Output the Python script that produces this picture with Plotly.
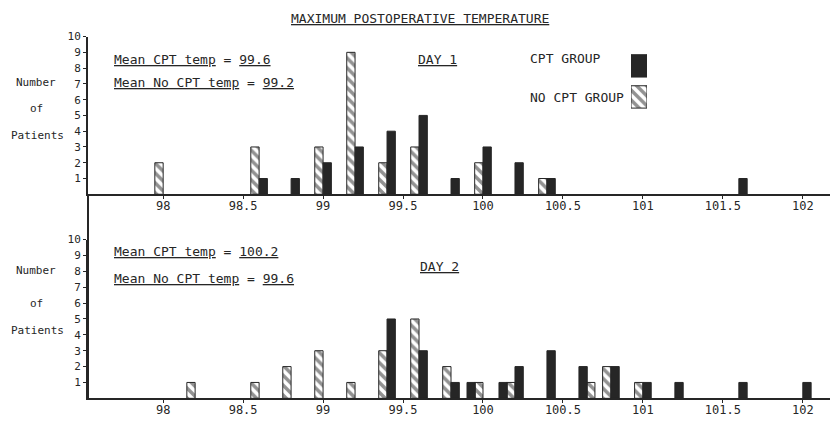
import plotly.graph_objects as go

# ---------------- data ----------------
day1_cpt_temps = [98.6, 98.8, 99.0, 99.2, 99.4, 99.6, 99.8, 100.0, 100.2, 100.4, 101.6]
day1_cpt_counts = [1, 1, 2, 3, 4, 5, 1, 3, 2, 1, 1]
day1_nocpt_temps = [98.0, 98.6, 99.0, 99.2, 99.4, 99.6, 100.0, 100.4]
day1_nocpt_counts = [2, 3, 3, 9, 2, 3, 2, 1]

day2_cpt_temps = [99.4, 99.6, 99.8, 99.9, 100.1, 100.2, 100.4, 100.6, 100.8, 101.0, 101.2, 101.6, 102.0]
day2_cpt_counts = [5, 3, 1, 1, 1, 2, 3, 2, 2, 1, 1, 1, 1]
day2_nocpt_temps = [98.2, 98.6, 98.8, 99.0, 99.2, 99.4, 99.6, 99.8, 100.0, 100.2, 100.7, 100.8, 101.0]
day2_nocpt_counts = [1, 1, 2, 3, 1, 3, 5, 2, 1, 1, 1, 2, 1]

x_ticks = [98, 98.5, 99, 99.5, 100, 100.5, 101, 101.5, 102]
y_ticks = [1, 2, 3, 4, 5, 6, 7, 8, 9, 10]
legend_labels = ["NO CPT GROUP", "CPT GROUP"]

# ---------------- style ----------------
W, H = 830, 421
INK = "#262626"
FONT = "DejaVu Sans Mono"
BW = 0.052


def px(x):
    return x / W


def py(y):
    return 1 - y / H


solid_marker = dict(color=INK, line=dict(color=INK, width=1))
hatch_marker = dict(color="white", line=dict(color=INK, width=1),
                    pattern=dict(shape="\\", fgcolor=INK, bgcolor="white", size=7, solidity=0.5))

fig = go.Figure()

# Day 1
fig.add_trace(go.Bar(x=day1_nocpt_temps, y=day1_nocpt_counts, width=BW, offset=-BW,
                     marker=hatch_marker, xaxis="x", yaxis="y", showlegend=False))
fig.add_trace(go.Bar(x=day1_cpt_temps, y=day1_cpt_counts, width=BW, offset=0,
                     marker=solid_marker, xaxis="x", yaxis="y", showlegend=False))
# Day 2
fig.add_trace(go.Bar(x=day2_nocpt_temps, y=day2_nocpt_counts, width=BW, offset=-BW,
                     marker=hatch_marker, xaxis="x2", yaxis="y2", showlegend=False))
fig.add_trace(go.Bar(x=day2_cpt_temps, y=day2_cpt_counts, width=BW, offset=0,
                     marker=solid_marker, xaxis="x2", yaxis="y2", showlegend=False))
# legend swatches
fig.add_trace(go.Bar(y=[0], x=[1], orientation="h", width=0.72, marker=hatch_marker,
                     xaxis="x3", yaxis="y3", showlegend=False))
fig.add_trace(go.Bar(y=[1], x=[1], orientation="h", width=0.72, marker=solid_marker,
                     xaxis="x3", yaxis="y3", showlegend=False))

xr = [97.53, 102.17]
xcommon = dict(range=xr, tickvals=x_ticks, ticktext=[f"{v:g}" for v in x_ticks],
               showline=True, linecolor=INK, linewidth=2, ticks="outside", ticklen=3,
               tickcolor=INK, showgrid=False, zeroline=False, ticklabelstandoff=-4,
               tickfont=dict(family=FONT, size=12, color=INK))
ycommon = dict(range=[0, 10], tickvals=y_ticks, showline=True, linecolor=INK, linewidth=2,
               ticks="outside", ticklen=3, tickcolor=INK, showgrid=False, zeroline=False,
               tickfont=dict(family=FONT, size=11, color=INK))

fig.update_layout(
    width=W, height=H, margin=dict(l=0, r=0, t=0, b=0),
    paper_bgcolor="white", plot_bgcolor="rgba(0,0,0,0)", barmode="overlay",
    xaxis=dict(domain=[px(88), 1], anchor="y", **xcommon),
    yaxis=dict(domain=[py(191), py(31)], anchor="x", **ycommon),
    xaxis2=dict(domain=[px(88), 1], anchor="y2", **xcommon),
    yaxis2=dict(domain=[py(398), py(237)], anchor="x2", **ycommon),
    xaxis3=dict(domain=[px(631), px(647)], anchor="y3", range=[0, 1], visible=False),
    yaxis3=dict(domain=[py(108), py(45)], anchor="x3", range=[-0.5, 1.5], visible=False),
    font=dict(family=FONT, color=INK),
)

# vertical axis spine joining the two panels
fig.add_shape(type="line", xref="paper", yref="paper", x0=px(88), x1=px(88),
              y0=py(398), y1=py(191), line=dict(color=INK, width=2))


def note(text, x, y, size=13, anchor="left"):
    fig.add_annotation(text=text, x=px(x), y=py(y - 4), xref="paper", yref="paper",
                       xanchor=anchor, yanchor="middle", showarrow=False,
                       font=dict(family=FONT, size=size, color=INK))


note("<u>MAXIMUM POSTOPERATIVE TEMPERATURE</u>", 420, 17, size=13, anchor="center")

note("<u>Mean CPT temp</u> = <u>99.6</u>", 112, 58)
note("<u>Mean No CPT temp</u> = <u>99.2</u>", 112, 82)
note("<u>DAY 1</u>", 416, 58)
note(legend_labels[1], 528, 57)
note(legend_labels[0], 528, 97)

note("<u>Mean CPT temp</u> = <u>100.2</u>", 112, 253)
note("<u>Mean No CPT temp</u> = <u>99.6</u>", 112, 280)
note("<u>DAY 2</u>", 418, 268)

for yy in (82, 272):
    note("Number", 36, yy, size=11, anchor="center")
for yy in (108, 306):
    note("of", 36, yy, size=11, anchor="center")
for yy in (135, 333):
    note("Patients", 37, yy, size=11, anchor="center")

fig.write_html("out.html")
